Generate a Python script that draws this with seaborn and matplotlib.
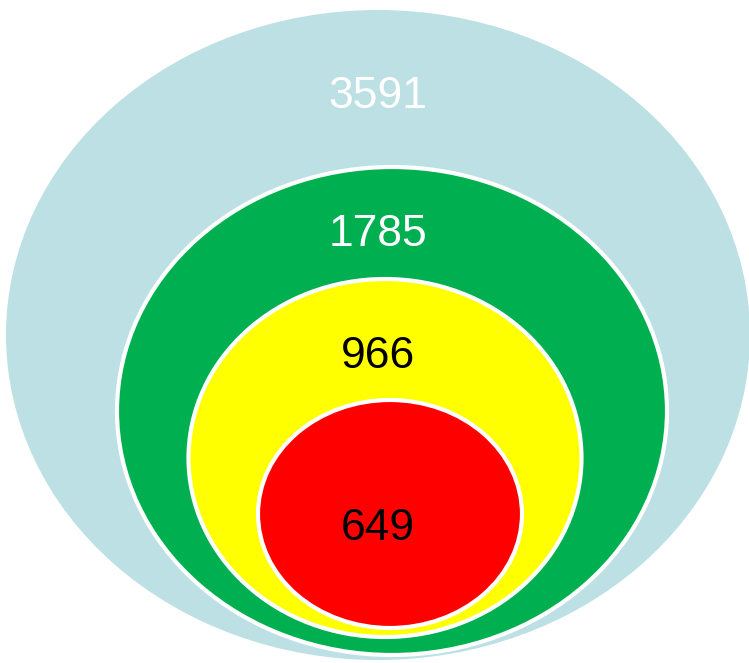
import numpy as np
import matplotlib
matplotlib.use("Agg")
import matplotlib.pyplot as plt
from matplotlib.patches import Ellipse
import seaborn as sns

# Data: nested counts, outermost first
values = [3591, 1785, 966, 649]
colors = ["#BCE0E3", "#00B050", "#FFFF00", "#FF0000"]
text_colors = ["white", "white", "black", "black"]

# Layout (pixel units of the 749x663 canvas)
centers_x = [378, 392, 385, 390]
centers_y = [335, 411, 458, 514]
widths = [744, 550, 393, 264]
heights = [650, 488, 358, 228]
label_y = [97, 235, 357, 528]

sns.set_theme(style="white")
plt.rcParams['font.family'] = ['Liberation Sans', 'DejaVu Sans']

fig = plt.figure(figsize=(7.49, 6.63), dpi=100)
ax = fig.add_axes([0, 0, 1, 1])
ax.set_xlim(0, 749)
ax.set_ylim(663, 0)
ax.axis("off")

for i, v in enumerate(values):
    edge = "none" if i == 0 else "white"
    e = Ellipse((centers_x[i], centers_y[i]), widths[i], heights[i],
                facecolor=colors[i], edgecolor=edge, linewidth=3)
    ax.add_patch(e)
    ax.text(378, label_y[i], str(v), color=text_colors[i], fontsize=32,
            ha="center", va="center")

fig.savefig("out.png", dpi=100)
